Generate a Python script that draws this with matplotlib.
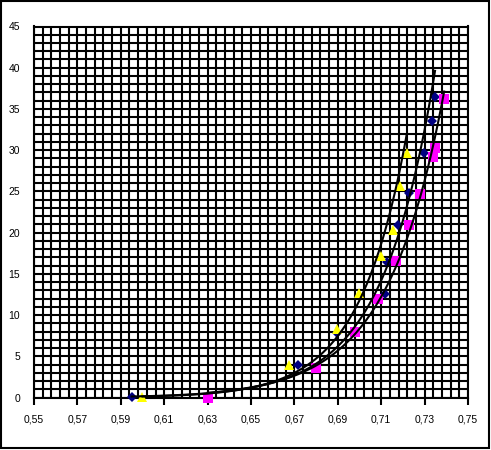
import numpy as np
import matplotlib
matplotlib.use("Agg")
from matplotlib import pyplot as plt
from matplotlib.ticker import FixedLocator, FuncFormatter

# dados (os "zeros" são valores muito pequenos)
x_azul = [0.595, 0.6715, 0.6895, 0.7118, 0.7125, 0.7179, 0.723, 0.7297, 0.7336, 0.7348]
y_azul = [0.1, 3.9, 7.8, 12.6, 16.4, 20.9, 24.8, 29.6, 33.5, 36.5]

x_amarelo = [0.600, 0.6677, 0.6898, 0.6998, 0.7098, 0.7153, 0.7187, 0.7217]
y_amarelo = [0.1, 3.9, 8.3, 12.7, 17.2, 20.3, 25.7, 29.6]

x_magenta = [0.630, 0.6798, 0.698, 0.7084, 0.7167, 0.723, 0.7279, 0.7337, 0.7348, 0.739]
y_magenta = [0.0, 3.6, 8.0, 11.9, 16.5, 20.9, 24.7, 29.2, 30.3, 36.2]

x_ticks = [0.55, 0.57, 0.59, 0.61, 0.63, 0.65, 0.67, 0.69, 0.71, 0.73, 0.75]
y_ticks = [0, 5, 10, 15, 20, 25, 30, 35, 40, 45]

series = [
    (x_azul, y_azul, "#000080", "D", 5.5),
    (x_amarelo, y_amarelo, "#FFFF00", "^", 7.5),
    (x_magenta, y_magenta, "#FF00FF", "s", 7),
]

plt.rcParams["font.family"] = ["Liberation Sans", "DejaVu Sans"]

fig = plt.figure(figsize=(4.91, 4.5), dpi=100)
ax = fig.add_axes([34 / 491, 52.5 / 450, 434 / 491, 371 / 450])

# pontos + linha de tendência exponencial (ajuste em ln y)
for xs, ys, cor, marc, tam in series:
    xs = np.array(xs)
    ys = np.array(ys)
    ax.plot(xs, ys, linestyle="none", marker=marc, color=cor, markersize=tam,
            markeredgewidth=0, zorder=3, clip_on=False)
    pos = ys > 0
    b, a = np.polyfit(xs[pos], np.log(ys[pos]), 1)
    xt = np.linspace(xs.min(), xs.max(), 200)
    ax.plot(xt, np.exp(a + b * xt), color="black", linewidth=1.5, zorder=4)

ax.set_xlim(0.55, 0.75)
ax.set_ylim(0, 45)
ax.xaxis.set_major_locator(FixedLocator(x_ticks))
ax.xaxis.set_minor_locator(FixedLocator(np.linspace(0.55, 0.75, 51)))
ax.yaxis.set_major_locator(FixedLocator(y_ticks))
ax.yaxis.set_minor_locator(FixedLocator(np.arange(0, 46, 1)))
ax.xaxis.set_major_formatter(FuncFormatter(lambda v, p: f"{v:.2f}".replace(".", ",")))
ax.grid(True, which="both", color="black", linewidth=1.5)
ax.set_axisbelow(True)
for s in ax.spines.values():
    s.set_linewidth(1.5)
ax.tick_params(axis="x", which="major", direction="out", length=5, width=1.5, labelsize=7.5, pad=7)
ax.tick_params(axis="y", which="major", length=0, labelsize=7.5, pad=10)
ax.tick_params(which="minor", length=0)

# moldura externa
fig.patches.append(plt.Rectangle((0.002, 0.004), 0.994, 0.994, transform=fig.transFigure,
                                 fill=False, edgecolor="black", linewidth=1.5))

fig.savefig("out.png", dpi=100)
